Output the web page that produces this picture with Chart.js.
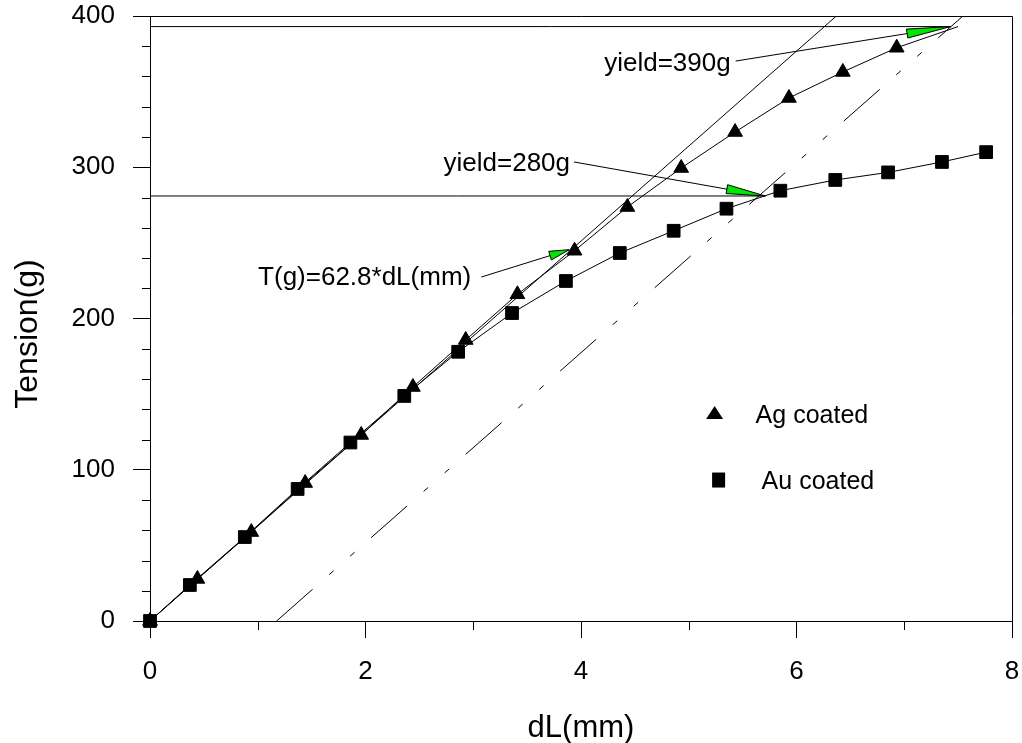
<!DOCTYPE html>
<html>
<head>
<meta charset="utf-8">
<script src="https://cdn.jsdelivr.net/npm/chart.js@4.4.1/dist/chart.umd.min.js"></script>
<style>
    body { margin: 0; background: #fff; }
    #wrap { width: 1022px; height: 743px; }
</style>
</head>
<body>
<div id="wrap"><canvas id="tensionChart" width="1022" height="743"></canvas></div>
<script>
// Data Ag coated (titik terakhir = titik yield, tanpa marker)
const agX = [0, 0.44, 0.94, 1.44, 1.96, 2.44, 2.93, 3.41, 3.94, 4.43, 4.93, 5.43, 5.93, 6.43, 6.93, 7.5];
const agY = [0, 27.8, 58.8, 91.2, 123, 154.7, 185.8, 216, 244.8, 273.7, 299.5, 323.3, 345.8, 363, 379, 393];

// Data Au coated
const auX = [0, 0.37, 0.88, 1.37, 1.86, 2.36, 2.86, 3.36, 3.86, 4.36, 4.86, 5.35, 5.85, 6.36, 6.85, 7.35, 7.76];
const auY = [0, 23.8, 55.5, 87.3, 118, 148.8, 178, 203.6, 224.8, 243.3, 258, 272.6, 284.5, 291.6, 296.6, 303.5, 310];

// Garis fit T(g)=62.8*dL(mm) dan garis offset (dash-dot)
const fitX = [0, 6.37];
const fitY = [0, 400];
const offsetX = [1.175, 7.545];
const offsetY = [0, 400];

// Garis yield horizontal
const yield390X = [0, 7.43];
const yield390Y = [393, 393];
const yield280X = [0, 5.71];
const yield280Y = [281, 281];

// Label sumbu
const xTicks = [0, 2, 4, 6, 8];
const yTicks = [0, 100, 200, 300, 400];
const xMinor = [1, 3, 5, 7];
const yMinor = [20, 40, 60, 80, 120, 140, 160, 180, 220, 240, 260, 280, 320, 340, 360, 380];

// Anotasi (koordinat data): teks, ujung panah, pangkal panah
const notes = [
    { text: "yield=390g", tx: 5.389, ty: 363.6, fromX: 5.435, fromY: 370.2, toX: 7.43, toY: 393, head: 44 },
    { text: "yield=280g", tx: 3.898, ty: 297.5, fromX: 3.935, fromY: 303.5, toX: 5.71, toY: 281, head: 39 },
    { text: "T(g)=62.8*dL(mm)", tx: 2.981, ty: 222.1, fromX: 3.074, fromY: 227.4, toX: 3.89, toY: 245.5, head: 20 },
];

const FONT = "'Liberation Sans', Arial, sans-serif";

function toPoints(xs, ys) {
    return xs.map((x, i) => ({ x: x, y: ys[i] }));
}

function lineSet(xs, ys, dash) {
    return {
        data: toPoints(xs, ys),
        showLine: true,
        borderColor: "#000",
        borderWidth: 1,
        borderDash: dash || [],
        pointRadius: 0,
        pointHoverRadius: 0,
        fill: false,
    };
}

// Plugin: tick minor, bingkai, anotasi, legenda, judul sumbu Y
const extras = {
    id: "extras",
    afterDraw(chart) {
        const ctx = chart.ctx;
        const xs = chart.scales.x;
        const ys = chart.scales.y;
        const area = chart.chartArea;
        ctx.save();
        ctx.strokeStyle = "#000";
        ctx.lineWidth = 1;

        // bingkai atas dan kanan
        ctx.beginPath();
        ctx.moveTo(Math.round(area.left), Math.round(area.top) + 0.5);
        ctx.lineTo(Math.round(area.right) + 0.5, Math.round(area.top) + 0.5);
        ctx.lineTo(Math.round(area.right) + 0.5, Math.round(area.bottom));
        ctx.stroke();

        // tick minor
        ctx.beginPath();
        yMinor.forEach((v) => {
            const py = Math.round(ys.getPixelForValue(v)) + 0.5;
            ctx.moveTo(area.left - 8, py);
            ctx.lineTo(area.left, py);
        });
        xMinor.forEach((v) => {
            const px = Math.round(xs.getPixelForValue(v)) + 0.5;
            ctx.moveTo(px, area.bottom);
            ctx.lineTo(px, area.bottom + 9);
        });
        ctx.stroke();

        // anotasi dengan panah hijau
        ctx.font = "26px " + FONT;
        ctx.fillStyle = "#000";
        ctx.textAlign = "right";
        ctx.textBaseline = "alphabetic";
        notes.forEach((n) => {
            ctx.fillText(n.text, xs.getPixelForValue(n.tx), ys.getPixelForValue(n.ty));
            const x0 = xs.getPixelForValue(n.fromX), y0 = ys.getPixelForValue(n.fromY);
            const x1 = xs.getPixelForValue(n.toX), y1 = ys.getPixelForValue(n.toY);
            ctx.beginPath();
            ctx.moveTo(x0, y0);
            ctx.lineTo(x1, y1);
            ctx.stroke();
            const len = Math.hypot(x1 - x0, y1 - y0);
            const ux = (x1 - x0) / len, uy = (y1 - y0) / len;
            const bx = x1 - ux * n.head, by = y1 - uy * n.head;
            const w = 4.5;
            ctx.beginPath();
            ctx.moveTo(x1, y1);
            ctx.lineTo(bx - uy * w, by + ux * w);
            ctx.lineTo(bx + uy * w, by - ux * w);
            ctx.closePath();
            ctx.fillStyle = "#00e600";
            ctx.fill();
            ctx.stroke();
            ctx.fillStyle = "#000";
        });

        // legenda
        ctx.textAlign = "left";
        ctx.font = "25px " + FONT;
        const lx = xs.getPixelForValue(5.24);
        const ly1 = ys.getPixelForValue(137.5);
        const ly2 = ys.getPixelForValue(93.2);
        ctx.beginPath();
        ctx.moveTo(lx, ly1 - 7);
        ctx.lineTo(lx + 8.5, ly1 + 6);
        ctx.lineTo(lx - 8.5, ly1 + 6);
        ctx.closePath();
        ctx.fill();
        ctx.fillText("Ag coated", lx + 41, ly1 + 10);
        ctx.fillRect(lx - 2.5, ly2 - 7.5, 13, 15);
        ctx.fillText("Au coated", lx + 47, ly2 + 9);

        // judul sumbu Y
        ctx.font = "32px " + FONT;
        ctx.translate(28, 334);
        ctx.rotate(-Math.PI / 2);
        ctx.textAlign = "center";
        ctx.textBaseline = "middle";
        ctx.fillText("Tension(g)", 0, 0);
        ctx.restore();
    },
};

document.addEventListener("DOMContentLoaded", function () {
    const el = document.getElementById("tensionChart");

    new Chart(el.getContext("2d"), {
        type: "scatter",
        data: {
            datasets: [
                {
                    label: "Au coated",
                    data: toPoints(auX, auY),
                    showLine: true,
                    clip: false,
                    borderColor: "#000",
                    borderWidth: 1,
                    pointStyle: "rect",
                    pointRadius: 9,
                    pointBackgroundColor: "#000",
                    pointBorderColor: "#000",
                },
                {
                    label: "Ag coated",
                    data: toPoints(agX, agY),
                    showLine: true,
                    clip: false,
                    borderColor: "#000",
                    borderWidth: 1,
                    pointStyle: "triangle",
                    pointRadius: agX.map((x, i) => (i === agX.length - 1 ? 0 : 8.5)),
                    pointBackgroundColor: "#000",
                    pointBorderColor: "#000",
                },
                lineSet(fitX, fitY),
                lineSet(offsetX, offsetY, [48, 22, 6, 22, 6, 22]),
                lineSet(yield390X, yield390Y),
                lineSet(yield280X, yield280Y),
            ],
        },
        options: {
            responsive: false,
            animation: false,
            events: [],
            layout: { padding: { top: 16, right: 8, bottom: 0, left: 0 } },
            plugins: {
                legend: { display: false },
                tooltip: { enabled: false },
            },
            scales: {
                x: {
                    type: "linear",
                    min: 0,
                    max: 8,
                    afterFit: (s) => {
                        s.height = 122;
                        s.paddingLeft = 0;
                        s.paddingRight = 0;
                    },
                    afterBuildTicks: (s) => { s.ticks = xTicks.map((v) => ({ value: v })); },
                    grid: { drawOnChartArea: false, tickLength: 17, tickColor: "#000" },
                    border: { color: "#000", width: 1 },
                    ticks: { color: "#000", padding: 18, font: { family: FONT, size: 26 } },
                    title: {
                        display: true,
                        text: "dL(mm)",
                        color: "#000",
                        font: { family: FONT, size: 31, lineHeight: 0.8 },
                        padding: { top: 0, bottom: 2 },
                    },
                },
                y: {
                    type: "linear",
                    min: 0,
                    max: 400,
                    afterFit: (s) => {
                        s.width = 150;
                        s.paddingTop = 0;
                        s.paddingBottom = 0;
                    },
                    afterBuildTicks: (s) => { s.ticks = yTicks.map((v) => ({ value: v })); },
                    grid: { drawOnChartArea: false, tickLength: 17, tickColor: "#000" },
                    border: { color: "#000", width: 1 },
                    ticks: { color: "#000", padding: 18, font: { family: FONT, size: 26 } },
                },
            },
        },
        plugins: [extras],
    });
});
</script>
</body>
</html>
